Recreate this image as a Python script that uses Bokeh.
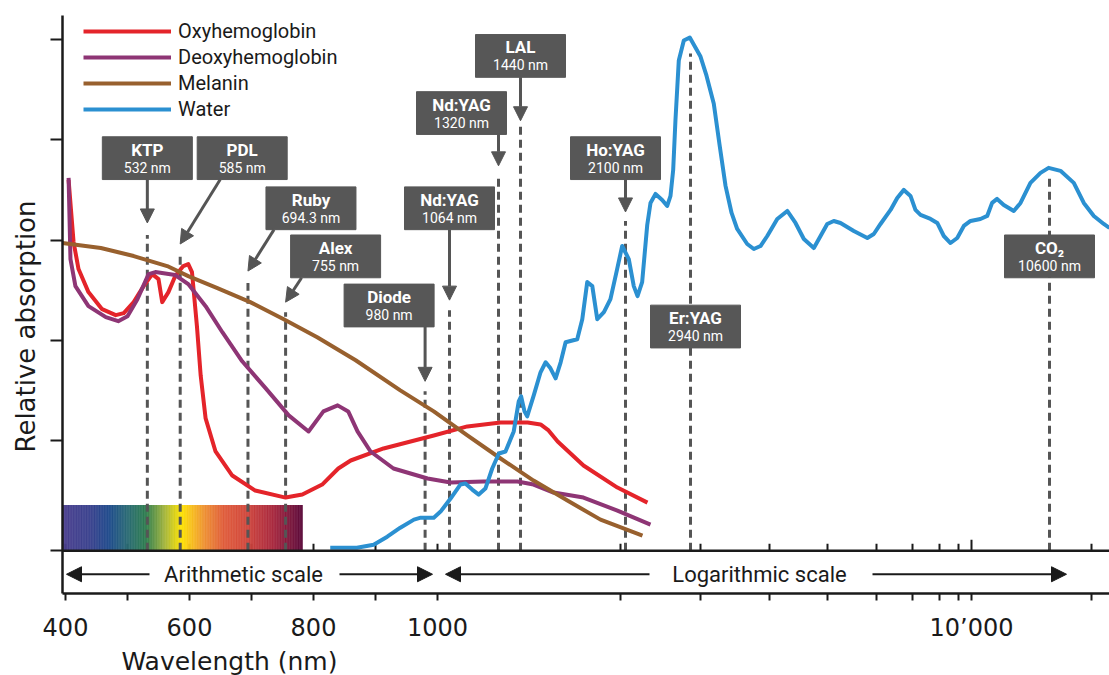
import numpy as np
from bokeh.plotting import figure
from bokeh.models import (ColumnDataSource, FixedTicker, Span, Label, Legend, LegendItem,
                          Arrow, NormalHead, Range1d, Title)
from bokeh.core.properties import value
from bokeh.embed import file_html
from bokeh.resources import INLINE

# ---------------- data (wavelength in nm, relative absorption) ----------------
OXY_NM = [405, 413, 421, 437, 459, 481, 494, 510, 526, 540, 550, 556, 566, 577, 590, 598, 604, 608, 612,
          618, 626, 642, 669, 706, 755, 782, 814, 840, 860, 913, 994, 1151, 1331, 1474, 1538, 1579, 1627,
          1771, 1980, 2353]
OXY_Y = [3.70, 3.08, 2.81, 2.58, 2.41, 2.35, 2.37, 2.48, 2.64, 2.76, 2.71, 2.48, 2.58, 2.74, 2.84, 2.86, 2.78,
         2.51, 2.24, 1.75, 1.32, 0.99, 0.75, 0.60, 0.53, 0.56, 0.66, 0.82, 0.90, 1.02, 1.15, 1.24, 1.28, 1.28,
         1.26, 1.20, 1.09, 0.85, 0.63, 0.48]

DEOXY_NM = [405, 408, 416, 437, 465, 485, 500, 516, 534, 545, 577, 598, 626, 653, 685, 723, 760, 792, 816,
            839, 856, 871, 892, 929, 984, 1069, 1236, 1423, 1503, 1605, 1771, 1980, 2390]
DEOXY_Y = [3.72, 2.91, 2.64, 2.44, 2.33, 2.29, 2.34, 2.51, 2.76, 2.78, 2.75, 2.66, 2.44, 2.18, 1.89, 1.62,
           1.35, 1.19, 1.39, 1.45, 1.39, 1.19, 0.99, 0.82, 0.72, 0.68, 0.69, 0.69, 0.66, 0.58, 0.53, 0.40, 0.26]

MELANIN_NM = [395, 457, 510, 564, 598, 645, 698, 752, 806, 868, 940, 994, 1151, 1331, 1503, 1680, 1873, 2293]
MELANIN_Y = [3.07, 3.02, 2.94, 2.84, 2.74, 2.62, 2.48, 2.31, 2.13, 1.90, 1.60, 1.39, 1.15, 0.92, 0.70, 0.50,
             0.31, 0.15]

WATER_NM = [827, 870, 897, 919, 940, 962, 973, 994, 1016, 1069,
            1116, 1141, 1176, 1210, 1246, 1284, 1322, 1357, 1402, 1430,
            1443, 1459, 1472, 1504, 1538, 1564, 1589, 1616, 1643, 1670,
            1735, 1764, 1793, 1823, 1853, 1894, 1935, 1978, 2033, 2136,
            2192, 2235, 2289, 2350, 2390, 2453, 2539, 2606, 2651, 2688,
            2720, 2767, 2840, 2929, 3000, 3076, 3171, 3248, 3330, 3415,
            3496, 3645, 3747, 3853, 3963, 4121, 4283, 4421, 4565, 4744,
            4868, 4995, 5118, 5248, 5514, 5799, 5940, 6104, 6372, 6557,
            6745, 6940, 7103, 7283, 7653, 7912, 8215, 8566, 8929, 9396,
            9920, 10067, 10118, 10155, 10193, 10244, 10321, 10373, 10450, 10529,
            10593, 12515, 15300, 17800, 20710, 24080, 26240]
WATER_Y = [0.03, 0.03, 0.06, 0.14, 0.23, 0.31, 0.33, 0.33, 0.39, 0.52,
           0.66, 0.67, 0.61, 0.56, 0.62, 0.82, 0.97, 0.99, 1.19, 1.49,
           1.54, 1.39, 1.34, 1.55, 1.78, 1.88, 1.82, 1.72, 1.88, 2.08,
           2.11, 2.31, 2.68, 2.64, 2.31, 2.38, 2.51, 2.81, 3.04, 2.91,
           2.64, 2.54, 2.68, 3.25, 3.47, 3.56, 3.50, 3.44, 3.54, 3.80,
           4.30, 4.89, 5.09, 5.12, 4.93, 4.74, 4.46, 4.05, 3.64, 3.37,
           3.21, 3.06, 3.01, 3.04, 3.14, 3.31, 3.39, 3.27, 3.11, 3.02,
           3.14, 3.26, 3.29, 3.27, 3.19, 3.12, 3.16, 3.26, 3.40, 3.52,
           3.60, 3.54, 3.40, 3.35, 3.31, 3.27, 3.14, 3.07, 3.12, 3.24,
           3.29, 3.31, 3.34, 3.47, 3.51, 3.45, 3.39, 3.47, 3.67, 3.77,
           3.82, 3.79, 3.67, 3.47, 3.34, 3.26, 3.22]

LASER_NAMES = ["KTP", "PDL", "Ruby", "Alex", "Diode", "Nd:YAG", "Nd:YAG", "LAL", "Ho:YAG", "Er:YAG", "CO₂"]
LASER_NM = [532, 585, 694.3, 755, 980, 1064, 1320, 1440, 2100, 2940, 10600]
LASER_TEXT = ["532 nm", "585 nm", "694.3 nm", "755 nm", "980 nm", "1064 nm", "1320 nm", "1440 nm",
              "2100 nm", "2940 nm", "10600 nm"]

MAJOR_TICK_NM = [400, 600, 800, 1000, 10000]
MAJOR_TICK_TEXT = ["400", "600", "800", "1000", "10’000"]
MINOR_TICK_NM = [500, 700, 900, 2000, 3000, 4000, 5000, 6000, 7000, 8000, 9000, 20000]

SERIES = ["Oxyhemoglobin", "Deoxyhemoglobin", "Melanin", "Water"]
SERIES_COLORS = ["#e4242a", "#8e3575", "#98602e", "#2b90d1"]

SPECTRUM_NM = [395, 440, 470, 500, 530, 560, 587, 602, 625, 655, 690, 735, 782]
SPECTRUM_COLORS = ["#4b3f8e", "#3a428e", "#1f4b8c", "#2a6b74", "#2e7d4e", "#a4b53c", "#ffe400",
                   "#f8c21c", "#ee8f33", "#e05d3b", "#d2483c", "#a8283f", "#5c0a3a"]

# ---------------- composite axis: arithmetic 400-1000 nm, then logarithmic ----------------
SCALE_NM = [400, 1000, 1064, 1320, 1440, 2000, 2100, 2940, 3000, 4000, 5000, 6000, 7000, 8000, 9000,
            10000, 10600, 20000]
SCALE_POS = [3, 375, 387, 436, 458, 558, 563, 628, 638, 707, 765, 814, 850, 877, 896, 909, 987, 1029]
LIN_SLOPE = (SCALE_POS[1] - SCALE_POS[0]) / (SCALE_NM[1] - SCALE_NM[0])


def xpos(nm):
    nm = np.asarray(nm, dtype=float)
    lin = SCALE_POS[0] + (nm - SCALE_NM[0]) * LIN_SLOPE
    lg = np.log10(np.maximum(nm, 1.0))
    lx = np.log10(np.array(SCALE_NM[1:], dtype=float))
    lp = np.interp(lg, lx, SCALE_POS[1:])
    slope = (SCALE_POS[-1] - SCALE_POS[-2]) / (lx[-1] - lx[-2])
    lp = np.where(lg > lx[-1], SCALE_POS[-1] + (lg - lx[-1]) * slope, lp)
    return np.where(nm <= SCALE_NM[1], lin, lp)


PX = 100.75          # pixels per y unit
Y0, Y1 = -0.427, 5.34
X0, X1 = 0, 1047


def px(n):           # vertical pixel offset -> y units
    return n / PX


# ---------------- layout of the laser call-outs ----------------
BOX_DX = [0, 62, 63, 50, -36, 0, -37, 0, -10, 5, 0]
BOX_TOP = [4.13, 4.13, 3.63, 3.15, 2.66, 3.63, 4.58, 5.15, 4.13, 2.45, 3.15]
ARROW_DX = [0, 40, 26, 16, 0, 0, 0, 0, 0]
TIP_Y = [3.27, 3.06, 2.79, 2.48, 1.69, 2.50, 3.84, 4.29, 3.38]
LINE_TOP = [3.15, 2.96, 2.67, 2.38, 1.59, 2.40, 3.74, 4.23, 3.29, 4.96, 3.72]
BOX_W, BOX_H = 90, px(43)

GREY = "#555555"
INK = "#1a1a1a"
SANS = "Roboto"

p = figure(width=1109, height=675, x_range=Range1d(X0, X1), y_range=Range1d(Y0, Y1),
           output_backend="svg", toolbar_location=None,
           min_border_left=62, min_border_right=0, min_border_top=15, min_border_bottom=79)
p.outline_line_color = None
p.grid.visible = False
p.background_fill_color = "white"

# x axis (composite scale)
major_pos = [int(round(float(v))) for v in xpos(MAJOR_TICK_NM)]
minor_pos = [float(v) for v in xpos(MINOR_TICK_NM)]
p.xaxis.ticker = FixedTicker(ticks=major_pos, minor_ticks=minor_pos)
p.xaxis.major_label_overrides = dict(zip(major_pos, MAJOR_TICK_TEXT))
p.xaxis.major_tick_out = 7
p.xaxis.major_tick_in = 0
p.xaxis.minor_tick_out = 7
p.xaxis.minor_tick_in = 0
p.xaxis.axis_line_width = 2.5
p.xaxis.axis_line_color = INK
p.xaxis.major_tick_line_width = 2
p.xaxis.major_tick_line_color = INK
p.xaxis.minor_tick_line_width = 2
p.xaxis.minor_tick_line_color = INK
p.xaxis.major_label_text_font = "DejaVu Sans"
p.xaxis.major_label_text_font_size = "24px"
p.xaxis.major_label_text_color = INK
p.xaxis.major_label_standoff = 13

# y axis: unlabeled ticks only
p.yaxis.ticker = FixedTicker(ticks=[], minor_ticks=[0, 1.1, 2.1, 3.1, 4.1, 5.1])
p.yaxis.minor_tick_out = 12
p.yaxis.minor_tick_in = 0
p.yaxis.minor_tick_line_width = 2
p.yaxis.minor_tick_line_color = INK
p.yaxis.major_tick_line_color = None
p.yaxis.axis_line_width = 2.5
p.yaxis.axis_line_color = INK
p.yaxis.major_label_standoff = 0

# axis titles
p.add_layout(Title(text="Wavelength (nm)", align="left", offset=59, standoff=0,
                   text_font="DejaVu Sans", text_font_size="25px", text_font_style="normal",
                   text_color=INK), "below")
p.add_layout(Title(text="Relative absorption", align="left", offset=141, standoff=18,
                   vertical_align="middle", text_font="DejaVu Sans", text_font_size="26px",
                   text_font_style="normal", text_color=INK), "left")

# baseline of the chart (top of the scale band) with its inner ticks
all_nm = MAJOR_TICK_NM + MINOR_TICK_NM
all_pos = [float(v) for v in xpos(all_nm)]
tick_top = [px(11) if nm == 10000 else px(7) for nm in all_nm]
p.add_layout(Span(location=0, dimension="width", line_color=INK, line_width=2.5))
p.segment(x0=all_pos, y0=[0] * len(all_pos), x1=all_pos, y1=tick_top, line_color=INK, line_width=2)

# visible spectrum bar
step = 1.0
sp_nm = np.arange(SPECTRUM_NM[0], SPECTRUM_NM[-1], step)
rgb = np.array([[int(c[i:i + 2], 16) for i in (1, 3, 5)] for c in SPECTRUM_COLORS], dtype=float)
cols = []
for w in sp_nm + step / 2:
    r, g, b = (np.interp(w, SPECTRUM_NM, rgb[:, k]) for k in range(3))
    cols.append("#%02x%02x%02x" % (int(r), int(g), int(b)))
p.quad(left=xpos(sp_nm), right=xpos(sp_nm + step) + 0.4, bottom=0, top=px(46), fill_color=cols,
       line_color=None)

# dashed laser lines
lx = xpos(LASER_NM)
p.segment(x0=lx, y0=[0] * len(lx), x1=lx, y1=LINE_TOP, line_color=GREY, line_width=3, line_dash="8 5")

# absorption curves
renderers = []
for xs, ys, c in [(OXY_NM, OXY_Y, SERIES_COLORS[0]), (DEOXY_NM, DEOXY_Y, SERIES_COLORS[1]),
                  (MELANIN_NM, MELANIN_Y, SERIES_COLORS[2]), (WATER_NM, WATER_Y, SERIES_COLORS[3])]:
    renderers.append(p.line(xpos(xs), ys, line_color=c, line_width=4, line_join="round"))

# call-out boxes
bx = lx + np.array(BOX_DX)
btop = np.array(BOX_TOP)
p.quad(left=bx - BOX_W / 2, right=bx + BOX_W / 2, top=btop, bottom=btop - BOX_H,
       fill_color="#575757", line_color="#575757", line_width=1)
src_t = ColumnDataSource(dict(x=bx, y1=btop - px(13), y2=btop - px(31), name=LASER_NAMES, wl=LASER_TEXT))
p.text(x="x", y="y1", text="name", source=src_t, text_align="center", text_baseline="middle",
       text_color="white", text_font=value(SANS), text_font_style="bold", text_font_size="17px")
p.text(x="x", y="y2", text="wl", source=src_t, text_align="center", text_baseline="middle",
       text_color="white", text_font=value(SANS), text_font_size="14px")

# arrows from boxes to laser lines
n_ar = len(ARROW_DX)
src_a = ColumnDataSource(dict(xs=lx[:n_ar] + np.array(ARROW_DX), ys=(btop - BOX_H)[:n_ar],
                              xe=lx[:n_ar], ye=TIP_Y))
p.add_layout(Arrow(end=NormalHead(size=14, fill_color=GREY, line_color=GREY),
                   x_start="xs", y_start="ys", x_end="xe", y_end="ye", source=src_a,
                   line_color=GREY, line_width=3))

# scale band texts and arrows
BAND_Y = -0.235
for xs, xe in [(87, 4), (277, 370), (587, 383), (810, 1004)]:
    p.add_layout(Arrow(end=NormalHead(size=15, fill_color=INK, line_color=INK),
                       x_start=xs, y_start=BAND_Y, x_end=xe, y_end=BAND_Y, line_color=INK, line_width=2))
p.add_layout(Label(x=181, y=BAND_Y, text="Arithmetic scale", text_align="center", text_baseline="middle",
                   text_font=SANS, text_font_size="22px", text_color=INK))
p.add_layout(Label(x=697, y=BAND_Y, text="Logarithmic scale", text_align="center", text_baseline="middle",
                   text_font=SANS, text_font_size="22px", text_color=INK))

# legend
legend = Legend(items=[LegendItem(label=s, renderers=[r]) for s, r in zip(SERIES, renderers)],
                location=(21, 472), glyph_width=88, glyph_height=24, label_height=24,
                label_standoff=7, spacing=2, padding=0, margin=0,
                label_text_font=SANS, label_text_font_size="20px", label_text_color=INK,
                border_line_color=None, background_fill_alpha=0)
p.add_layout(legend)

open("out.html", "w").write(file_html(p, INLINE))
